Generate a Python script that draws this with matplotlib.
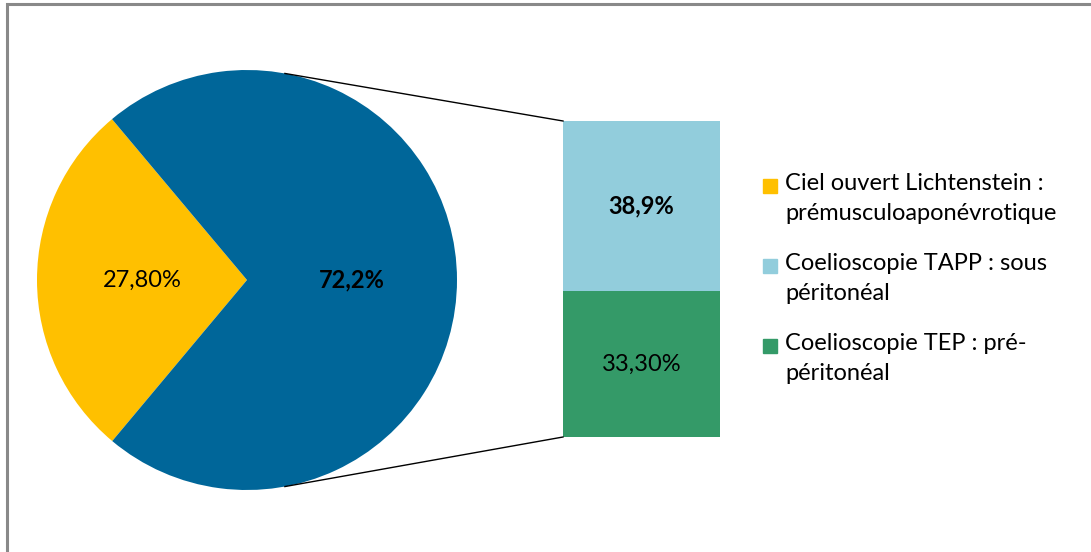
import matplotlib.pyplot as plt
import numpy as np
from matplotlib.patches import Rectangle

plt.rcParams['font.family'] = ['Lato', 'DejaVu Sans']

# data
pie_labels = ['Ciel ouvert Lichtenstein :\nprémusculoaponévrotique', 'Coelioscopie']
pie_values = [27.8, 72.2]
pie_texts = ['27,80%', '72,2%']
bar_labels = ['Coelioscopie TEP : pré-\npéritonéal', 'Coelioscopie TAPP : sous\npéritonéal']
bar_values = [33.3, 38.9]
bar_texts = ['33,30%', '38,9%']

c_yellow = '#FFC000'
c_blue = '#006699'
c_light = '#92CDDC'
c_green = '#349A68'

W, H = 1091, 552
fig = plt.figure(figsize=(W / 100, H / 100), dpi=100)
ax = fig.add_axes([0, 0, 1, 1])

# frame around chart area
fig.patches.append(Rectangle((7 / W, -0.1), 1.2, (H - 4) / H + 0.1, transform=fig.transFigure,
                             fill=False, edgecolor='#898989', linewidth=2.2))

# pie
cx, cy, r = 247, 272, 210
wedges, _ = ax.pie(pie_values, colors=[c_yellow, c_blue], startangle=130,
                   center=(cx, cy), radius=r, frame=True)
ax.set_xlim(0, W)
ax.set_ylim(0, H)
ax.set_aspect('equal')
ax.axis('off')
fs = 17
ax.text(142, cy, pie_texts[0], ha='center', va='center', fontsize=fs)
ax.text(352, cy, pie_texts[1], ha='center', va='center', fontsize=fs, fontweight='bold')

# bar of the second slice
bx, bw, by = 563, 157, 115
scale = 316 / sum(bar_values)
bottom = by
colors_bar = [c_green, c_light]
weights = ['normal', 'bold']
for v, col, txt, fw in zip(bar_values, colors_bar, bar_texts, weights):
    ax.bar(bx, v * scale, width=bw, bottom=bottom, align='edge', color=col)
    ax.text(bx + bw / 2, bottom + v * scale / 2, txt, ha='center', va='center',
            fontsize=fs, fontweight=fw)
    bottom += v * scale

# connector lines
ang = np.deg2rad(79.6)
ax.plot([cx + r * np.cos(ang), bx], [cy + r * np.sin(ang), bottom], color='black', lw=1)
ax.plot([cx + r * np.cos(ang), bx], [cy - r * np.sin(ang), by], color='black', lw=1)

# legend
leg_items = [(pie_labels[0], c_yellow), (bar_labels[1], c_light), (bar_labels[0], c_green)]
for i, (lab, col) in enumerate(leg_items):
    ty = H - 186 - i * 80
    ax.add_patch(Rectangle((763, ty - 7), 14, 14, color=col))
    ax.text(785, ty + 13, lab, ha='left', va='top', fontsize=fs, linespacing=1.55)

fig.savefig('out.png', dpi=100)
